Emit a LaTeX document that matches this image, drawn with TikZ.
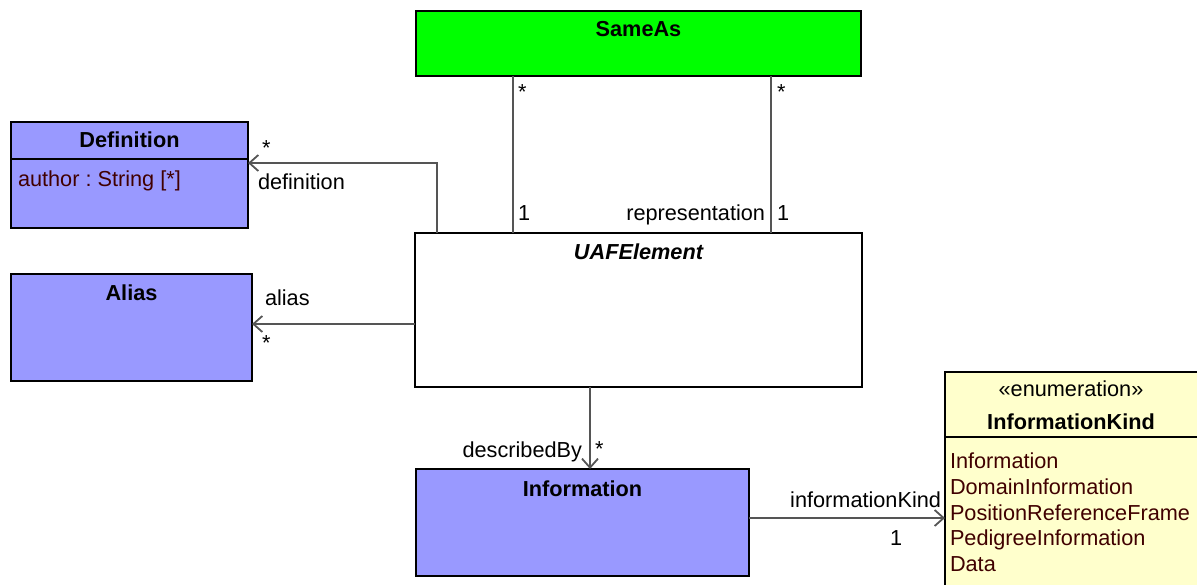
\documentclass[tikz,border=0pt]{standalone}
\usepackage{fontspec}
\setmainfont{Liberation Sans}
\usetikzlibrary{arrows.meta,calc}
\definecolor{umlblue}{RGB}{153,153,255}
\definecolor{umlgreen}{RGB}{0,255,0}
\definecolor{umlyellow}{RGB}{255,255,204}
\definecolor{attrcol}{RGB}{64,0,0}
\definecolor{linecol}{RGB}{85,85,85}
\frenchspacing
\begin{document}
\begin{tikzpicture}[x=1pt,y=-1pt,font=\fontsize{21.7}{26}\selectfont,
  box/.style={draw=black,line width=1.6pt,inner sep=0pt,outer sep=0pt,anchor=north west},
  txt/.style={inner sep=0pt,outer sep=0pt,anchor=base},
  ltxt/.style={inner sep=0pt,outer sep=0pt,anchor=base west},
  rtxt/.style={inner sep=0pt,outer sep=0pt,anchor=base east},
  title/.style={txt,font=\fontsize{21.7}{26}\selectfont\bfseries},
  attr/.style={ltxt,text=attrcol},
  sep/.style={draw=black,line width=1.6pt},
  assoc/.style={draw=linecol,line width=1.8pt},
  nav/.style={assoc,-{Straight Barb[length=9pt,width=16pt,line width=1.8pt]}}
]
\useasboundingbox (0,0) rectangle (1197,585);
% boxes
\node[box,fill=umlgreen,minimum width=445pt,minimum height=65pt] (same) at (416,11) {};
\node[box,fill=umlblue,minimum width=237pt,minimum height=106pt] (def) at (11,122) {};
\node[box,fill=umlblue,minimum width=241pt,minimum height=107pt] (alias) at (11,274) {};
\node[box,fill=white,minimum width=447pt,minimum height=154pt] (uaf) at (415,233) {};
\node[box,fill=umlblue,minimum width=333pt,minimum height=107pt] (info) at (416,469) {};
\node[box,fill=umlyellow,minimum width=270pt,minimum height=230pt] (kind) at (945,372) {};
% separators
\draw[sep] ($(def.north west)+(0,37)$) -- ($(def.north east)+(0,37)$);
\draw[sep] ($(kind.north west)+(0,65)$) -- ($(kind.north east)+(0,65)$);
% titles
\node[title] (sameT) at (638.5,37) {SameAs};
\node[title] (defT) at (129.5,148) {Definition};
\node[title] (aliasT) at (131.5,301) {Alias};
\node[title,font=\fontsize{21.7}{26}\selectfont\bfseries\itshape] (uafT) at (638.5,260) {UAFElement};
\node[title] (infoT) at (582.5,496) {Information};
\node[txt] (kindS) at (1071,396) {«enumeration»};
\node[title] (kindT) at (1071,429) {InformationKind};
% attributes / literals
\node[attr] (defA) at (18,187) {author : String [*]};
\node[attr] (lit1) at (950,468) {Information};
\node[attr] (lit2) at (950,494) {DomainInformation};
\node[attr] (lit3) at (950,520) {PositionReferenceFrame};
\node[attr] (lit4) at (950,545) {PedigreeInformation};
\node[attr] (lit5) at (950,571) {Data};
% connectors
\coordinate (defbend) at ($(uaf.north west)+(22,0)$);
\draw[nav] (defbend) |- ($(def.north east)+(0,41)$);
\draw[assoc] ($(same.south west)+(97,0)$) -- ($(uaf.north west)+(98,0)$);
\draw[assoc] ($(same.south west)+(355,0)$) -- ($(uaf.north west)+(356,0)$);
\draw[nav] ($(uaf.north west)+(0,91)$) -- ($(alias.north east)+(0,50)$);
\draw[nav] ($(uaf.south west)+(175,0)$) -- ($(info.north west)+(174,0)$);
\draw[nav] ($(info.north east)+(0,49)$) -- ($(kind.north west)+(0,146)$);
% labels
\node[ltxt] (l1) at (262,156) {*};
\node[ltxt] (l2) at (258,190) {definition};
\node[ltxt] (l3) at (518,100) {*};
\node[ltxt] (l4) at (518,221) {1};
\node[ltxt] (l5) at (777,100) {*};
\node[rtxt] (l6) at (765,221) {representation};
\node[ltxt] (l7) at (777,221) {1};
\node[ltxt] (l8) at (265,306) {alias};
\node[ltxt] (l9) at (262,350) {*};
\node[rtxt] (l10) at (582,457) {describedBy};
\node[ltxt] (l11) at (595,456) {*};
\node[rtxt] (l12) at (941,507) {informationKind};
\node[ltxt] (l13) at (890,545) {1};
\end{tikzpicture}
\end{document}
